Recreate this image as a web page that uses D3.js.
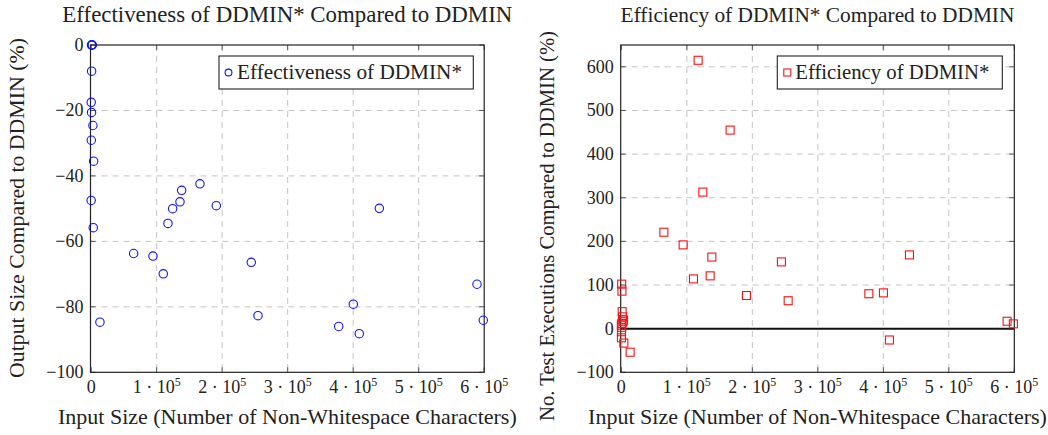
<!DOCTYPE html>
<html><head><meta charset="utf-8">
<script src="https://cdn.jsdelivr.net/npm/d3@7"></script>
<style>body{margin:0;background:#fff}svg text{font-family:"Liberation Serif","DejaVu Serif",serif;fill:#222}</style>
</head><body><svg id="c" width="1048" height="435"></svg>
<script>
const inputSize = [500, 900, 1300, 1700, 700, 100, 600, 2700, 200, 3800, 0, 3200,
  13400, 64900, 94350, 110100, 117250, 124400, 135600, 138150, 166100, 191000,
  244400, 254700, 377900, 400200, 409300, 439900, 589000, 598600];
const effectiveness = [0, 0, 0, 0, -8, -17.5, -20.6, -24.6, -29.1, -35.5, -47.5, -55.8,
  -84.7, -63.7, -64.5, -69.9, -54.5, -50.0, -47.9, -44.4, -42.4, -49.1,
  -66.4, -82.7, -86.0, -79.2, -88.2, -49.9, -73.1, -84.1];
const efficiency = [102, 86, 39, 27, 12, -21, 3, 16, -7, -33, 8, 20,
  -54, 221, 192, 114, 615, 313, 121, 164, 455, 76,
  153, 64, 80, 82, -26, 169, 17, 11];
const xTicks = [0, 100000, 200000, 300000, 400000, 500000, 600000];
const yTicksLeft = [-100, -80, -60, -40, -20, 0];
const yTicksRight = [-100, 0, 100, 200, 300, 400, 500, 600];

const svg = d3.select("#c");
const fmt = v => v < 0 ? "\u2212" + Math.abs(v) : String(v);

function fit(sel, w, base) {
  sel.style("font-size", base + "px");
  const cur = sel.node().getComputedTextLength();
  sel.style("font-size", (base * w / cur).toFixed(2) + "px");
}

function panel(o) {
  const g = svg.append("g");
  const x = d3.scaleLinear().domain([-1000, 600000]).range([o.x0, o.x1]);
  const y = d3.scaleLinear().domain(o.yDomain).range([372.3, 45]);
  // grid
  g.selectAll(".gx").data(xTicks.filter(t => t > 0 && t < 600000)).enter().append("line")
    .attr("x1", d => x(d)).attr("x2", d => x(d)).attr("y1", 45).attr("y2", 372.3)
    .attr("stroke", "#c4c4c4").attr("stroke-dasharray", "6,5");
  g.selectAll(".gy").data(o.yTicks.filter(t => t > o.yDomain[0] && t < o.yDomain[1])).enter().append("line")
    .attr("y1", d => y(d)).attr("y2", d => y(d)).attr("x1", o.x0).attr("x2", o.x1)
    .attr("stroke", "#c4c4c4").attr("stroke-dasharray", "6,5");
  // tick marks inward
  const tk = 5;
  xTicks.forEach(t => {
    g.append("line").attr("x1", x(t)).attr("x2", x(t)).attr("y1", 372.3).attr("y2", 372.3 - tk).attr("stroke", "#555");
    g.append("line").attr("x1", x(t)).attr("x2", x(t)).attr("y1", 45).attr("y2", 45 + tk).attr("stroke", "#555");
  });
  o.yTicks.forEach(t => {
    g.append("line").attr("y1", y(t)).attr("y2", y(t)).attr("x1", o.x0).attr("x2", o.x0 + tk).attr("stroke", "#555");
    g.append("line").attr("y1", y(t)).attr("y2", y(t)).attr("x1", o.x1).attr("x2", o.x1 - tk).attr("stroke", "#555");
  });
  if (o.zeroLine) {
    g.append("line").attr("x1", o.x0).attr("x2", o.x1).attr("y1", y(0)).attr("y2", y(0))
      .attr("stroke", "#111").attr("stroke-width", 2);
  }
  // frame
  g.append("rect").attr("x", o.x0).attr("y", 45).attr("width", o.x1 - o.x0).attr("height", 372.3 - 45)
    .attr("fill", "none").attr("stroke", "#222").attr("stroke-width", 1.2);
  // y tick labels
  g.selectAll(".yl").data(o.yTicks).enter().append("text")
    .attr("x", o.x0 - 7).attr("y", d => y(d) + 6).attr("text-anchor", "end")
    .style("font-size", "18px").text(fmt);
  // x tick labels
  xTicks.forEach(t => {
    const tx = g.append("text").attr("x", x(t)).attr("y", 393).attr("text-anchor", "middle").style("font-size", "18px");
    if (t === 0) tx.text("0");
    else {
      tx.append("tspan").text((t / 100000) + " \u00b7 10");
      tx.append("tspan").attr("dy", -7).style("font-size", "12px").text("5");
    }
  });
  // marks
  const data = inputSize.map((v, i) => ({ x: v, y: o.values[i] }));
  if (o.marker === "circle") {
    g.selectAll(".m").data(data).enter().append("circle")
      .attr("cx", d => x(d.x)).attr("cy", d => y(d.y)).attr("r", 4.2)
      .attr("fill", "none").attr("stroke", "#1010ff").attr("stroke-width", 1.1);
  } else {
    g.selectAll(".m").data(data).enter().append("rect")
      .attr("x", d => x(d.x) - 4).attr("y", d => y(d.y) - 4).attr("width", 8).attr("height", 8)
      .attr("fill", "none").attr("stroke", "#ff1010").attr("stroke-width", 1.1);
  }
  // legend
  g.append("rect").attr("x", o.lg[0]).attr("y", 56).attr("width", o.lg[1] - o.lg[0]).attr("height", 33)
    .attr("fill", "#fff").attr("stroke", "#222").attr("stroke-width", 1.1);
  if (o.marker === "circle") {
    g.append("circle").attr("cx", o.lg[0] + 9.5).attr("cy", 72.5).attr("r", 3.4)
      .attr("fill", "none").attr("stroke", "#1010ff").attr("stroke-width", 1.1);
  } else {
    g.append("rect").attr("x", o.lg[0] + 6.5).attr("y", 69).attr("width", 7).attr("height", 7)
      .attr("fill", "none").attr("stroke", "#ff1010").attr("stroke-width", 1.1);
  }
  const lt = g.append("text").attr("x", o.lg[0] + 18).attr("y", 79).text(o.legend);
  fit(lt, o.legendW, 18);
  // title
  const tt = g.append("text").attr("x", (o.x0 + o.x1) / 2).attr("y", 22).attr("text-anchor", "middle").text(o.title);
  fit(tt, o.titleW, 18);
  // x label
  const xl = g.append("text").attr("x", (o.x0 + o.x1) / 2).attr("y", 424).attr("text-anchor", "middle")
    .text("Input Size (Number of Non-Whitespace Characters)");
  fit(xl, 459, 18);
  // y label
  const yl = g.append("text").attr("transform", `translate(${o.ylx},${o.yly}) rotate(-90)`)
    .attr("text-anchor", "middle").text(o.ylabel);
  fit(yl, o.ylW, 18);
}

panel({ x0: 90.5, x1: 484.2, yDomain: [-100, 0], yTicks: yTicksLeft, values: effectiveness,
  marker: "circle", legend: "Effectiveness of DDMIN*", legendW: 225, lg: [219, 473.3],
  title: "Effectiveness of DDMIN* Compared to DDMIN", titleW: 450,
  ylabel: "Output Size Compared to DDMIN (%)", ylx: 24, yly: 208, ylW: 340, zeroLine: false });
panel({ x0: 620.7, x1: 1014.3, yDomain: [-100, 650], yTicks: yTicksRight, values: efficiency,
  marker: "square", legend: "Efficiency of DDMIN*", legendW: 194, lg: [777.3, 1002.3],
  title: "Efficiency of DDMIN* Compared to DDMIN", titleW: 394,
  ylabel: "No. Test Executions Compared to DDMIN (%)", ylx: 554, yly: 226, ylW: 390, zeroLine: true });
</script></body></html>
